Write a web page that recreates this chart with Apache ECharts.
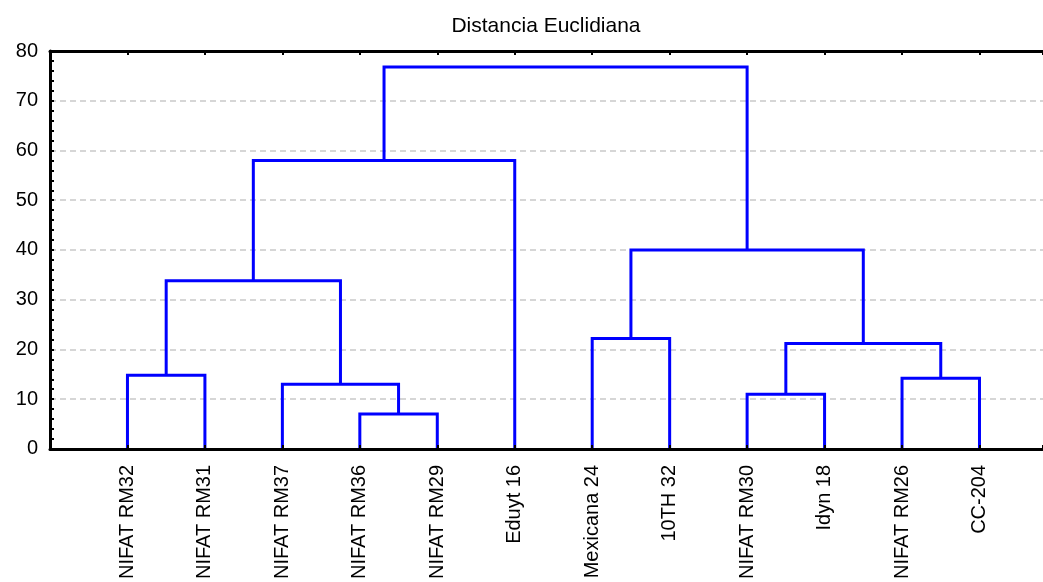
<!DOCTYPE html>
<html>
<head>
<meta charset="utf-8">
<script src="https://cdn.jsdelivr.net/npm/echarts@6/dist/echarts.min.js"></script>
<style>html,body{margin:0;padding:0;background:#fff}#c{width:1043px;height:582px}</style>
</head>
<body>
<div id="c"></div>
<script>
// Leaves (in dendrogram order)
var leaves = ['NIFAT RM32','NIFAT RM31','NIFAT RM37','NIFAT RM36','NIFAT RM29','Eduyt 16',
              'Mexicana 24','10TH 32','NIFAT RM30','Idyn 18','NIFAT RM26','CC-204'];
// Merges: cluster ids 0..11 are leaves, 12+ are merges in this order
var mergeA = [0, 3, 2, 12, 15, 6, 8, 10, 18, 17, 16];
var mergeB = [1, 4, 13, 14, 5, 7, 9, 11, 19, 20, 21];
var mergeHeight = [14.8, 7.0, 13.0, 33.8, 58.0, 22.2, 11.0, 14.2, 21.2, 40.0, 76.8];
var yTicks = [0, 10, 20, 30, 40, 50, 60, 70, 80];
var title = 'Distancia Euclidiana';

var posX = [], posY = [];
for (var i = 0; i < leaves.length; i++) { posX.push(i); posY.push(0); }
var links = [];
for (var k = 0; k < mergeA.length; k++) {
  var a = mergeA[k], b = mergeB[k], h = mergeHeight[k];
  links.push([posX[a], posY[a], posX[b], posY[b], h]);
  posX.push((posX[a] + posX[b]) / 2);
  posY.push(h);
}

var chart = echarts.init(document.getElementById('c'));
var font = '"Liberation Sans", Arial, sans-serif';
var xMax = 11.82;
chart.setOption({
  animation: false,
  backgroundColor: '#fff',
  graphic: [{
    type: 'text', x: 546, y: 16,
    style: { text: title, fontSize: 21, fontFamily: font, fill: '#000', align: 'center', textAlign: 'center' }
  }],
  grid: { left: 50, right: 0, top: 51, bottom: 131, containLabel: false },
  xAxis: [{
    type: 'value', min: -1, max: xMax, interval: 1, position: 'bottom', z: 5,
    axisLine: { show: true, onZero: false, lineStyle: { color: '#000', width: 3 } },
    axisTick: { show: true, inside: true, length: 4, lineStyle: { color: '#000', width: 2 } },
    splitLine: { show: false },
    axisLabel: {
      rotate: 90, margin: 16, fontSize: 20, fontFamily: font, color: '#000',
      showMinLabel: true, showMaxLabel: true,
      formatter: function (v) { var i = Math.round(v); return (Math.abs(v - i) < 1e-6 && i >= 0 && i < leaves.length) ? leaves[i] : ''; }
    }
  }, {
    type: 'value', min: -1, max: xMax, interval: 1, position: 'top', z: 5,
    axisLine: { show: true, onZero: false, lineStyle: { color: '#000', width: 3 } },
    axisTick: { show: true, inside: true, length: 4, lineStyle: { color: '#000', width: 2 } },
    splitLine: { show: false },
    axisLabel: { show: false }
  }],
  yAxis: {
    type: 'value', min: yTicks[0], max: yTicks[yTicks.length - 1], interval: 10,
    axisLine: { show: true, onZero: false, lineStyle: { color: '#000', width: 3 } },
    axisTick: { show: true, inside: true, length: 4, lineStyle: { color: '#000', width: 2 } },
    minorTick: { show: true, splitNumber: 5, length: 4, lineStyle: { color: '#000', width: 2 } },
    splitLine: {
      show: true, showMinLine: false, showMaxLine: false,
      lineStyle: { color: '#d6d6d6', width: 2, type: [6, 4] }
    },
    axisLabel: { fontSize: 20, fontFamily: font, color: '#000', margin: 12 }
  },
  series: [{
    type: 'custom',
    xAxisIndex: 0, yAxisIndex: 0, z: 3,
    encode: { x: [0, 2], y: [1, 3, 4] },
    data: links,
    renderItem: function (params, api) {
      var xa = api.value(0), ya = api.value(1), xb = api.value(2), yb = api.value(3), h = api.value(4);
      var p1 = api.coord([xa, ya]), p2 = api.coord([xa, h]), p3 = api.coord([xb, h]), p4 = api.coord([xb, yb]);
      return {
        type: 'polyline',
        shape: { points: [p1, p2, p3, p4] },
        style: { stroke: '#0000ff', lineWidth: 3, fill: null, lineJoin: 'miter', lineCap: 'butt' }
      };
    }
  }]
});
</script>
</body>
</html>
